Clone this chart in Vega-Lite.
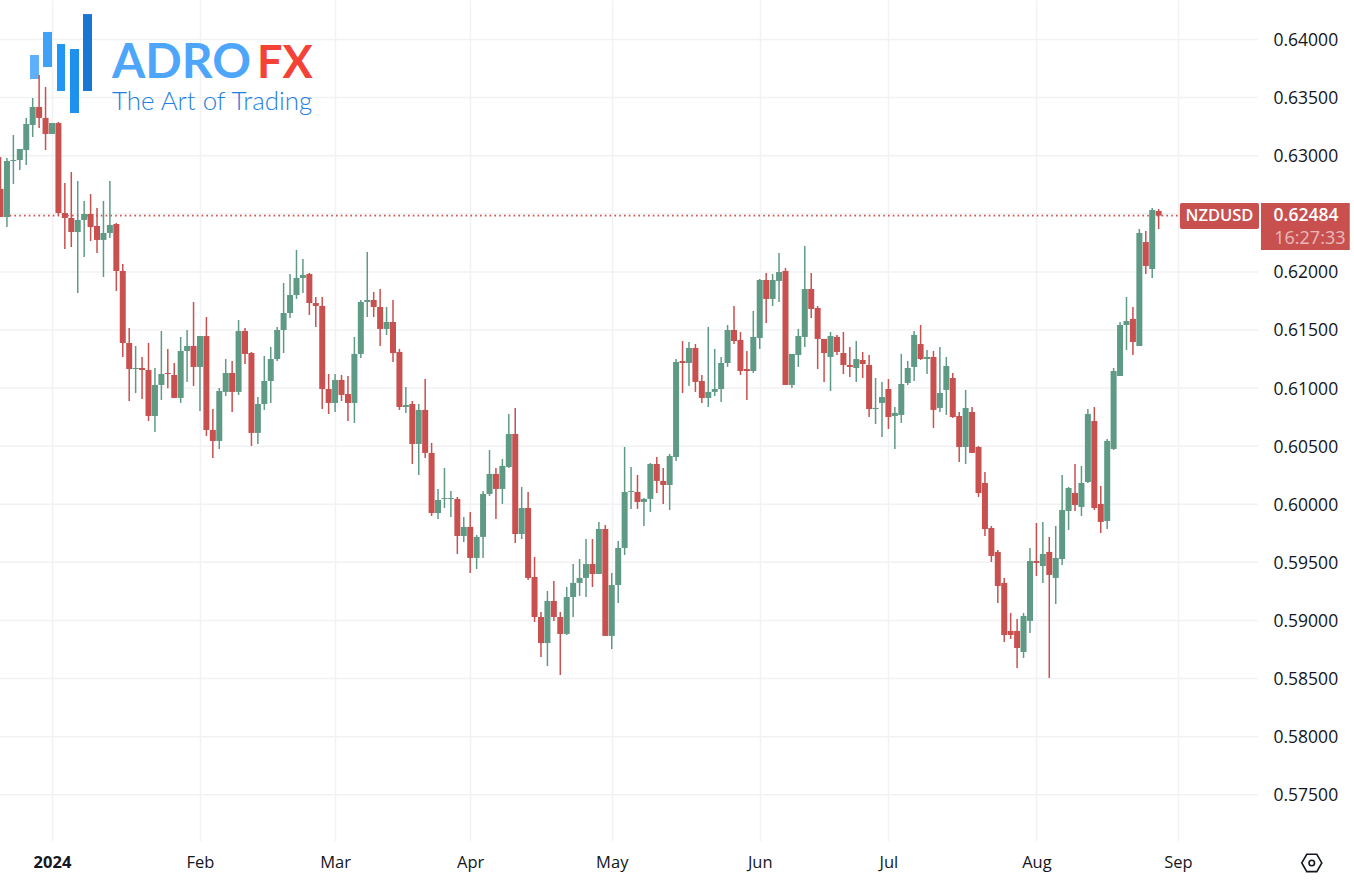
{"$schema":"https://vega.github.io/schema/vega-lite/v6.json","width":1354,"height":841,"padding":{"left":0,"top":0,"right":0,"bottom":41},"autosize":{"type":"none"},"background":"#ffffff","config":{"view":{"stroke":null},"font":"Open Sans"},"datasets":{"grid":[{"p":0.575},{"p":0.58},{"p":0.585},{"p":0.59},{"p":0.595},{"p":0.6},{"p":0.605},{"p":0.61},{"p":0.615},{"p":0.62},{"p":0.625},{"p":0.63},{"p":0.635},{"p":0.64}],"candles":[
{"i":-8,"o":0.62714,"h":0.62989,"l":0.62473,"c":0.62473},{"i":-7,"o":0.62473,"h":0.6298,"l":0.62386,"c":0.62954},{"i":-6,"o":0.62954,"h":0.63178,"l":0.62757,"c":0.62963},{"i":-5,"o":0.62963,"h":0.63058,"l":0.62877,"c":0.63058},{"i":-4,"o":0.63049,"h":0.63325,"l":0.6292,"c":0.63273},{"i":-3,"o":0.63264,"h":0.63497,"l":0.63161,"c":0.63419},{"i":-2,"o":0.63419,"h":0.63695,"l":0.63238,"c":0.63325},{"i":-1,"o":0.63325,"h":0.63591,"l":0.63049,"c":0.63187},{"i":0,"o":0.63187,"h":0.63281,"l":0.63187,"c":0.63281},{"i":1,"o":0.63281,"h":0.6329,"l":0.6249,"c":0.62507},{"i":2,"o":0.62507,"h":0.62765,"l":0.62197,"c":0.62464},{"i":3,"o":0.62464,"h":0.6286,"l":0.62214,"c":0.62343},{"i":4,"o":0.62343,"h":0.62782,"l":0.61818,"c":0.62447},{"i":5,"o":0.62447,"h":0.6261,"l":0.62128,"c":0.62498},{"i":6,"o":0.62498,"h":0.6267,"l":0.62266,"c":0.62386},{"i":7,"o":0.62395,"h":0.6255,"l":0.62163,"c":0.62275},{"i":8,"o":0.62275,"h":0.6261,"l":0.61956,"c":0.62335},{"i":9,"o":0.62335,"h":0.62782,"l":0.62292,"c":0.62404},{"i":10,"o":0.62412,"h":0.62421,"l":0.61836,"c":0.62008},{"i":11,"o":0.62008,"h":0.62068,"l":0.61268,"c":0.61388},
{"i":12,"o":0.61388,"h":0.61517,"l":0.60889,"c":0.61164},{"i":13,"o":0.61164,"h":0.61362,"l":0.60958,"c":0.61173},{"i":14,"o":0.61173,"h":0.61268,"l":0.60906,"c":0.61156},{"i":15,"o":0.61156,"h":0.61388,"l":0.60717,"c":0.6076},{"i":16,"o":0.6076,"h":0.61173,"l":0.60622,"c":0.61027},{"i":17,"o":0.61027,"h":0.61491,"l":0.60898,"c":0.61121},{"i":18,"o":0.6113,"h":0.61337,"l":0.60999,"c":0.61121},{"i":19,"o":0.61113,"h":0.61216,"l":0.60915,"c":0.60915},{"i":20,"o":0.60915,"h":0.6144,"l":0.60872,"c":0.61319},{"i":21,"o":0.61319,"h":0.615,"l":0.61053,"c":0.61362},{"i":22,"o":0.61362,"h":0.61741,"l":0.61018,"c":0.61182},{"i":23,"o":0.61182,"h":0.61448,"l":0.60803,"c":0.61448},{"i":24,"o":0.61448,"h":0.61612,"l":0.60588,"c":0.60639},{"i":25,"o":0.60639,"h":0.6082,"l":0.60398,"c":0.60545},{"i":26,"o":0.60545,"h":0.61001,"l":0.60476,"c":0.60975},{"i":27,"o":0.60967,"h":0.6125,"l":0.60932,"c":0.6113},{"i":28,"o":0.6113,"h":0.61233,"l":0.60794,"c":0.60967},{"i":29,"o":0.60967,"h":0.61586,"l":0.60941,"c":0.61491},{"i":30,"o":0.61491,"h":0.61517,"l":0.61207,"c":0.61294},{"i":31,"o":0.61302,"h":0.61311,"l":0.60502,"c":0.60614},
{"i":32,"o":0.60614,"h":0.60923,"l":0.60519,"c":0.60863},{"i":33,"o":0.60863,"h":0.61276,"l":0.60812,"c":0.61061},{"i":34,"o":0.61061,"h":0.61354,"l":0.60872,"c":0.6125},{"i":35,"o":0.6125,"h":0.61526,"l":0.61233,"c":0.615},{"i":36,"o":0.615,"h":0.61905,"l":0.61302,"c":0.61646},{"i":37,"o":0.61646,"h":0.61982,"l":0.61603,"c":0.61801},{"i":38,"o":0.61801,"h":0.62189,"l":0.61767,"c":0.61948},{"i":39,"o":0.61948,"h":0.62111,"l":0.61818,"c":0.61973},{"i":40,"o":0.61982,"h":0.61991,"l":0.61629,"c":0.61732},{"i":41,"o":0.61732,"h":0.61784,"l":0.61526,"c":0.61707},{"i":42,"o":0.61707,"h":0.61784,"l":0.6082,"c":0.60992},{"i":43,"o":0.60992,"h":0.61121,"l":0.60777,"c":0.60872},{"i":44,"o":0.60872,"h":0.61121,"l":0.60794,"c":0.6107},{"i":45,"o":0.6107,"h":0.61113,"l":0.60889,"c":0.60941},{"i":46,"o":0.60949,"h":0.61104,"l":0.60717,"c":0.60872},{"i":47,"o":0.60872,"h":0.6144,"l":0.607,"c":0.61294},{"i":48,"o":0.61294,"h":0.61758,"l":0.61259,"c":0.61741},{"i":49,"o":0.61741,"h":0.62171,"l":0.61612,"c":0.61758},{"i":50,"o":0.61758,"h":0.61827,"l":0.61612,"c":0.61698},{"i":51,"o":0.61698,"h":0.61853,"l":0.61362,"c":0.61509},
{"i":52,"o":0.61509,"h":0.61698,"l":0.61457,"c":0.61569},{"i":53,"o":0.61569,"h":0.61758,"l":0.61225,"c":0.61302},{"i":54,"o":0.61311,"h":0.61337,"l":0.60812,"c":0.60837},{"i":55,"o":0.60837,"h":0.61009,"l":0.60786,"c":0.60855},{"i":56,"o":0.60863,"h":0.60889,"l":0.60347,"c":0.60519},{"i":57,"o":0.60519,"h":0.60863,"l":0.60252,"c":0.60812},{"i":58,"o":0.60812,"h":0.61078,"l":0.60398,"c":0.60442},{"i":59,"o":0.60442,"h":0.60528,"l":0.59899,"c":0.59925},{"i":60,"o":0.59925,"h":0.60132,"l":0.59873,"c":0.60037},{"i":61,"o":0.60046,"h":0.60312,"l":0.59968,"c":0.60054},{"i":62,"o":0.60046,"h":0.60114,"l":0.59891,"c":0.60054},{"i":63,"o":0.60046,"h":0.60063,"l":0.59572,"c":0.59727},{"i":64,"o":0.59727,"h":0.59891,"l":0.59676,"c":0.59805},{"i":65,"o":0.59805,"h":0.59934,"l":0.59409,"c":0.59538},{"i":66,"o":0.59538,"h":0.59736,"l":0.59443,"c":0.59719},{"i":67,"o":0.59719,"h":0.60114,"l":0.59538,"c":0.60089},{"i":68,"o":0.60089,"h":0.60467,"l":0.60071,"c":0.60261},{"i":69,"o":0.60261,"h":0.60312,"l":0.59873,"c":0.60132},{"i":70,"o":0.60132,"h":0.6039,"l":0.60003,"c":0.6033},{"i":71,"o":0.60321,"h":0.60777,"l":0.60312,"c":0.60605},
{"i":72,"o":0.60605,"h":0.60829,"l":0.59667,"c":0.59744},{"i":73,"o":0.59744,"h":0.60149,"l":0.59701,"c":0.59968},{"i":74,"o":0.59968,"h":0.60106,"l":0.59349,"c":0.59366},{"i":75,"o":0.59374,"h":0.59547,"l":0.58987,"c":0.5903},{"i":76,"o":0.5903,"h":0.59073,"l":0.58686,"c":0.58806},{"i":77,"o":0.58806,"h":0.59254,"l":0.58608,"c":0.59168},{"i":78,"o":0.59168,"h":0.5934,"l":0.58996,"c":0.5903},{"i":79,"o":0.5903,"h":0.59073,"l":0.58531,"c":0.58884},{"i":80,"o":0.58884,"h":0.59288,"l":0.58875,"c":0.59202},{"i":81,"o":0.59202,"h":0.59486,"l":0.5903,"c":0.59323},{"i":82,"o":0.59323,"h":0.59529,"l":0.59211,"c":0.59366},{"i":83,"o":0.59366,"h":0.59701,"l":0.59202,"c":0.59486},{"i":84,"o":0.59486,"h":0.59701,"l":0.59288,"c":0.594},{"i":85,"o":0.594,"h":0.59848,"l":0.594,"c":0.59787},{"i":86,"o":0.59787,"h":0.59822,"l":0.58867,"c":0.58867},{"i":87,"o":0.58867,"h":0.59409,"l":0.58755,"c":0.59305},{"i":88,"o":0.59305,"h":0.59684,"l":0.59151,"c":0.59624},{"i":89,"o":0.59624,"h":0.60493,"l":0.59564,"c":0.60106},{"i":90,"o":0.60106,"h":0.60321,"l":0.5996,"c":0.60114},{"i":91,"o":0.60106,"h":0.60252,"l":0.5996,"c":0.6002},
{"i":92,"o":0.6002,"h":0.60054,"l":0.59813,"c":0.60046},{"i":93,"o":0.60046,"h":0.60355,"l":0.59934,"c":0.60347},{"i":94,"o":0.60347,"h":0.60407,"l":0.60097,"c":0.60201},{"i":95,"o":0.60201,"h":0.60312,"l":0.60003,"c":0.60166},{"i":96,"o":0.60166,"h":0.60433,"l":0.59951,"c":0.60416},{"i":97,"o":0.60407,"h":0.6125,"l":0.60373,"c":0.61225},{"i":98,"o":0.61233,"h":0.61405,"l":0.60958,"c":0.61216},{"i":99,"o":0.61216,"h":0.61397,"l":0.61018,"c":0.61345},{"i":100,"o":0.61345,"h":0.61379,"l":0.60967,"c":0.61053},{"i":101,"o":0.61061,"h":0.61113,"l":0.60872,"c":0.60915},{"i":102,"o":0.60915,"h":0.61526,"l":0.60837,"c":0.60967},{"i":103,"o":0.60967,"h":0.61337,"l":0.60932,"c":0.60992},{"i":104,"o":0.60992,"h":0.61268,"l":0.6088,"c":0.61216},{"i":105,"o":0.61216,"h":0.61543,"l":0.61182,"c":0.615},{"i":106,"o":0.615,"h":0.61707,"l":0.61379,"c":0.61405},{"i":107,"o":0.61414,"h":0.61483,"l":0.61113,"c":0.61147},{"i":108,"o":0.61164,"h":0.61319,"l":0.60898,"c":0.61147},{"i":109,"o":0.61147,"h":0.61664,"l":0.6113,"c":0.6144},{"i":110,"o":0.61431,"h":0.61939,"l":0.61337,"c":0.6193},{"i":111,"o":0.6193,"h":0.61991,"l":0.6156,"c":0.61767},
{"i":112,"o":0.61767,"h":0.61982,"l":0.61707,"c":0.6193},{"i":113,"o":0.61922,"h":0.62163,"l":0.61741,"c":0.61999},{"i":114,"o":0.62008,"h":0.62034,"l":0.61027,"c":0.61027},{"i":115,"o":0.61027,"h":0.61294,"l":0.61001,"c":0.61294},{"i":116,"o":0.61285,"h":0.61509,"l":0.61182,"c":0.61448},{"i":117,"o":0.6144,"h":0.62223,"l":0.61354,"c":0.61853},{"i":118,"o":0.61853,"h":0.61991,"l":0.61603,"c":0.61681},{"i":119,"o":0.61689,"h":0.61707,"l":0.61164,"c":0.61423},{"i":120,"o":0.61423,"h":0.61423,"l":0.61053,"c":0.61302},{"i":121,"o":0.61268,"h":0.61483,"l":0.60975,"c":0.61448},{"i":122,"o":0.6144,"h":0.61457,"l":0.61285,"c":0.61311},{"i":123,"o":0.61302,"h":0.61483,"l":0.61121,"c":0.61199},{"i":124,"o":0.61199,"h":0.61354,"l":0.61096,"c":0.61182},{"i":125,"o":0.61173,"h":0.61405,"l":0.61053,"c":0.6125},{"i":126,"o":0.61242,"h":0.61311,"l":0.61087,"c":0.61207},{"i":127,"o":0.61199,"h":0.61285,"l":0.60751,"c":0.6082},{"i":128,"o":0.6082,"h":0.61087,"l":0.60691,"c":0.60829},{"i":129,"o":0.60872,"h":0.61053,"l":0.60579,"c":0.60923},{"i":130,"o":0.60992,"h":0.61078,"l":0.60648,"c":0.60751},{"i":131,"o":0.6076,"h":0.60837,"l":0.60476,"c":0.60786},
{"i":132,"o":0.60769,"h":0.61294,"l":0.607,"c":0.61035},{"i":133,"o":0.61044,"h":0.61233,"l":0.61027,"c":0.61173},{"i":134,"o":0.61182,"h":0.61491,"l":0.61061,"c":0.61457},{"i":135,"o":0.61379,"h":0.61543,"l":0.61242,"c":0.6125},{"i":136,"o":0.6125,"h":0.61328,"l":0.61121,"c":0.61268},{"i":137,"o":0.61268,"h":0.61319,"l":0.60657,"c":0.60812},{"i":138,"o":0.60829,"h":0.61354,"l":0.60794,"c":0.60958},{"i":139,"o":0.60984,"h":0.61268,"l":0.60769,"c":0.6119},{"i":140,"o":0.61087,"h":0.6113,"l":0.60743,"c":0.60751},{"i":141,"o":0.6076,"h":0.60794,"l":0.60364,"c":0.60493},{"i":142,"o":0.60493,"h":0.60984,"l":0.60347,"c":0.60829},{"i":143,"o":0.60794,"h":0.60837,"l":0.60442,"c":0.60442},{"i":144,"o":0.60493,"h":0.60502,"l":0.60063,"c":0.60097},{"i":145,"o":0.60183,"h":0.60278,"l":0.59727,"c":0.59787},{"i":146,"o":0.59796,"h":0.59813,"l":0.59503,"c":0.59555},{"i":147,"o":0.5959,"h":0.59607,"l":0.59151,"c":0.59297},{"i":148,"o":0.59323,"h":0.59366,"l":0.58815,"c":0.58875},{"i":149,"o":0.5891,"h":0.59065,"l":0.58841,"c":0.58875},{"i":150,"o":0.5891,"h":0.59013,"l":0.58591,"c":0.58763},{"i":151,"o":0.58729,"h":0.59065,"l":0.58677,"c":0.59039},
{"i":152,"o":0.58996,"h":0.59624,"l":0.58892,"c":0.59512},{"i":153,"o":0.59512,"h":0.59839,"l":0.59383,"c":0.59495},{"i":154,"o":0.59469,"h":0.59848,"l":0.59323,"c":0.59572},{"i":155,"o":0.5959,"h":0.59719,"l":0.58505,"c":0.59392},{"i":156,"o":0.59366,"h":0.59813,"l":0.59142,"c":0.59538},{"i":157,"o":0.59529,"h":0.60252,"l":0.59478,"c":0.59951},{"i":158,"o":0.59942,"h":0.60149,"l":0.59779,"c":0.6014},{"i":159,"o":0.60097,"h":0.60347,"l":0.59942,"c":0.59994},{"i":160,"o":0.59977,"h":0.6033,"l":0.59899,"c":0.60183},{"i":161,"o":0.60192,"h":0.6082,"l":0.60183,"c":0.60777},{"i":162,"o":0.60717,"h":0.60837,"l":0.59951,"c":0.59968},{"i":163,"o":0.60003,"h":0.60157,"l":0.59753,"c":0.59848},{"i":164,"o":0.59856,"h":0.60562,"l":0.59787,"c":0.60545},{"i":165,"o":0.60476,"h":0.61173,"l":0.60467,"c":0.61147},{"i":166,"o":0.61104,"h":0.61569,"l":0.61104,"c":0.61543},{"i":167,"o":0.61543,"h":0.61784,"l":0.61328,"c":0.61577},{"i":168,"o":0.61595,"h":0.61698,"l":0.61285,"c":0.61397},{"i":169,"o":0.61362,"h":0.62369,"l":0.61362,"c":0.62335},{"i":170,"o":0.62257,"h":0.62352,"l":0.61982,"c":0.62051},{"i":171,"o":0.62025,"h":0.6255,"l":0.61948,"c":0.62533},{"i":172,"o":0.62524,"h":0.62541,"l":0.62369,"c":0.62484}
]},"layer":[
{"data":{"name":"grid"},"mark":{"type":"rule","color":"#f2f2f4","strokeWidth":1.5},"encoding":{
"x":{"datum":-8.08,"type":"quantitative","scale":{"domain":[-8.08,202.36],"nice":false,"zero":false,"padding":0},"axis":{"title":null,"values":[0,23,44,65,87,110,130,153,175],"labelExpr":"datum.value==0?'2024':datum.value==23?'Feb':datum.value==44?'Mar':datum.value==65?'Apr':datum.value==87?'May':datum.value==110?'Jun':datum.value==130?'Jul':datum.value==153?'Aug':'Sep'","grid":true,"gridColor":"#f2f2f4","gridWidth":1.5,"ticks":false,"domain":false,"labelFontSize":16.5,"labelColor":"#131722","labelPadding":13.5,"labelFlush":false,"labelFontWeight":{"condition":{"test":"datum.value==0","value":"bold"},"value":"normal"},"zindex":0}},
"x2":{"datum":187.44},
"y":{"field":"p","type":"quantitative","scale":{"domain":[0.57102,0.6434],"nice":false,"zero":false},"axis":{"title":null,"orient":"right","offset":-96,"values":[0.575,0.58,0.585,0.59,0.595,0.6,0.605,0.61,0.615,0.62,0.625,0.63,0.635,0.64],"format":".5f","grid":false,"ticks":false,"domain":false,"labelFontSize":17.5,"labelColor":"#131722","labelPadding":15,"labelOffset":1,"zindex":0}}}},
{"data":{"values":[{"bar":"b1","i":-3.42,"i2":-2.02,"p":0.63867,"p2":0.6366},{"bar":"b2","i":-1.4,"i2":0,"p":0.64065,"p2":0.63763},{"bar":"b3","i":0.78,"i2":2.02,"p":0.63961,"p2":0.63557},{"bar":"b4","i":2.8,"i2":4.2,"p":0.63918,"p2":0.63367},{"bar":"b5","i":4.82,"i2":6.22,"p":0.64219,"p2":0.63557}]},"mark":{"type":"rect"},"encoding":{
"x":{"field":"i","type":"quantitative"},"x2":{"field":"i2"},"y":{"field":"p","type":"quantitative"},"y2":{"field":"p2"},
"color":{"field":"bar","type":"nominal","scale":{"domain":["b1","b2","b3","b4","b5"],"range":["#5fb0fa","#3fa2f8","#2196f3","#1e90ee","#1976d2"]},"legend":null}}},
{"data":{"values":[{"t":"ADRO","i":9.33,"p":0.63669}]},"mark":{"type":"text","align":"left","baseline":"alphabetic","font":"Lato","fontWeight":"bold","fontSize":48,"color":"#4ea6fb"},"encoding":{"x":{"field":"i","type":"quantitative"},"y":{"field":"p","type":"quantitative"},"text":{"field":"t"}}},
{"data":{"values":[{"t":"FX","i":31.86,"p":0.63669}]},"mark":{"type":"text","align":"left","baseline":"alphabetic","font":"Lato","fontWeight":"bold","fontSize":45,"color":"#f44336"},"encoding":{"x":{"field":"i","type":"quantitative"},"y":{"field":"p","type":"quantitative"},"text":{"field":"t"}}},
{"data":{"values":[{"t":"The Art of Trading","i":9.33,"p":0.63393}]},"mark":{"type":"text","align":"left","baseline":"alphabetic","font":"Lato","fontWeight":300,"fontSize":25.9,"color":"#1f7fe0"},"encoding":{"x":{"field":"i","type":"quantitative"},"y":{"field":"p","type":"quantitative"},"text":{"field":"t"}}},
{"data":{"values":[{"p":0.62484,"a":-8.08,"b":175.3}]},"mark":{"type":"rule","color":"#c8504f","strokeWidth":1.6,"strokeDash":[1.6,3.2]},"encoding":{"x":{"field":"a","type":"quantitative"},"x2":{"field":"b"},"y":{"field":"p","type":"quantitative"}}},
{"data":{"name":"candles"},"mark":{"type":"rule","strokeWidth":1.5},"encoding":{"x":{"field":"i","type":"quantitative"},"y":{"field":"l","type":"quantitative"},"y2":{"field":"h"},"color":{"condition":{"test":"datum.c<datum.o","value":"#c8504f"},"value":"#5f9a85"}}},
{"data":{"name":"candles"},"mark":{"type":"bar","size":6},"encoding":{"x":{"field":"i","type":"quantitative"},"y":{"field":"o","type":"quantitative"},"y2":{"field":"c"},"color":{"condition":{"test":"datum.c<datum.o","value":"#c8504f"},"value":"#5f9a85"}}},
{"data":{"values":[{"i":175.3,"i2":187.6,"p":0.62593,"p2":0.62369}]},"mark":{"type":"rect","color":"#c8504f","cornerRadius":2},"encoding":{"x":{"field":"i","type":"quantitative"},"x2":{"field":"i2"},"y":{"field":"p","type":"quantitative"},"y2":{"field":"p2"}}},
{"data":{"values":[{"i":187.9,"i2":201.7,"p":0.62593,"p2":0.62189}]},"mark":{"type":"rect","color":"#c8504f"},"encoding":{"x":{"field":"i","type":"quantitative"},"x2":{"field":"i2"},"y":{"field":"p","type":"quantitative"},"y2":{"field":"p2"}}},
{"data":{"values":[{"t":"NZDUSD","i":181.45,"p":0.62484}]},"mark":{"type":"text","align":"center","baseline":"middle","fontSize":16.5,"fontWeight":"600","color":"#ffffff"},"encoding":{"x":{"field":"i","type":"quantitative"},"y":{"field":"p","type":"quantitative"},"text":{"field":"t"}}},
{"data":{"values":[{"t":"0.62484","i":194.9,"p":0.62484}]},"mark":{"type":"text","align":"center","baseline":"middle","fontSize":17.5,"fontWeight":"600","color":"#ffffff"},"encoding":{"x":{"field":"i","type":"quantitative"},"y":{"field":"p","type":"quantitative"},"text":{"field":"t"}}},
{"data":{"values":[{"t":"16:27:33","i":195.5,"p":0.62286}]},"mark":{"type":"text","align":"center","baseline":"middle","fontSize":18,"color":"#ffffff","opacity":0.6},"encoding":{"x":{"field":"i","type":"quantitative"},"y":{"field":"p","type":"quantitative"},"text":{"field":"t"}}},
{"data":{"values":[{"i":195.8,"p":0.56913}]},"mark":{"type":"point","shape":"M -1 0 L -0.5 -0.87 L 0.5 -0.87 L 1 0 L 0.5 0.87 L -0.5 0.87 Z","size":400,"filled":false,"stroke":"#131722","strokeWidth":1.6,"opacity":1},"encoding":{"x":{"field":"i","type":"quantitative"},"y":{"field":"p","type":"quantitative"}}},
{"data":{"values":[{"i":195.8,"p":0.56913}]},"mark":{"type":"point","shape":"circle","size":30,"filled":false,"stroke":"#131722","strokeWidth":1.6,"opacity":1},"encoding":{"x":{"field":"i","type":"quantitative"},"y":{"field":"p","type":"quantitative"}}}
]}
